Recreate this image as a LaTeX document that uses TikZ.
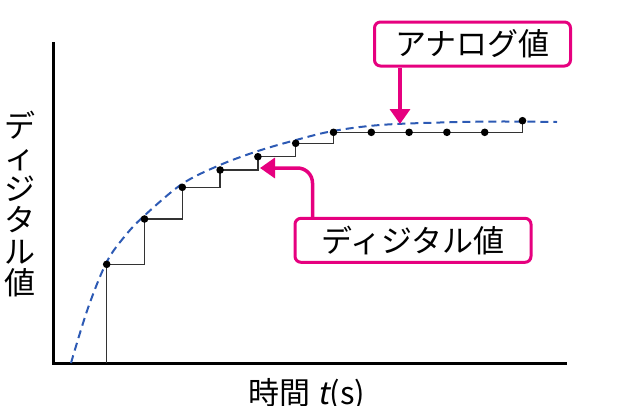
\documentclass[tikz,border=0pt]{standalone}
\usepackage{fontspec}
\setmainfont{Noto Sans CJK JP}[AutoFakeSlant=0.2]
\usetikzlibrary{arrows.meta,positioning}
\definecolor{hotpink}{RGB}{230,0,127}
\definecolor{curveblue}{RGB}{45,90,180}
\tikzset{
  axis/.style={line width=3pt},
  steps/.style={line width=1.5pt, black!80},
  analog/.style={curveblue, line width=2pt, dash pattern=on 8pt off 5pt},
  callout/.style={draw=hotpink, line width=3pt, rounded corners=6pt, fill=white, inner sep=0pt, minimum height=44pt},
  pointer/.style={hotpink, line width=3.5pt, -{Triangle[width=20pt,length=15pt]}},
}

\begin{document}
\begin{tikzpicture}[x=1pt,y=-1pt,font=\fontsize{31}{31}\selectfont]
    \useasboundingbox (0,0) rectangle (621,405);
    % axes
    \coordinate (ytop) at (53,42);
    \coordinate (O) at (53,363);
    \coordinate (xend) at (567,363);
    \draw[axis] (ytop) -- (O) -- (xend);
    \node[align=center, inner sep=0pt, font=\fontsize{31}{31.5}\selectfont] (ylab) at (20,204) {デ\\ィ\\ジ\\タ\\ル\\値};
    \node[anchor=north, inner sep=0pt] (xlab) at (307,378) {時間 \textit{t}(s)};
    % analog value
    \draw[analog] plot[smooth, tension=0.55] coordinates {(71,363) (88,308) (106.7,262) (125,236) (144,216) (182,184) (220,165) (258,151) (296,140) (333,131) (380,125) (440,122.5) (500,121.5) (557,122)};
    % digital value
    \foreach \y [count=\i] in {264.3,219,187.3,170,156.7,143.3,132.3,132.3,132.3,132.3,132.3,120.7}
        \coordinate (p\i) at ({106.7+37.8*(\i-1)},\y);
    \draw[steps] (p1 |- O) -- (p1) -| (p2) -| (p3) -| (p4) -| (p5) -| (p6) -| (p7) -| (p8) -| (p9) -| (p10) -| (p11) -| (p12);
    \foreach \i in {1,...,12}
        \fill (p\i) circle (3.8pt);
    % callouts
    \node[callout, minimum width=196pt] (ana) at (472.5,44) {アナログ値};
    \node[callout, minimum width=236pt] (dig) at (413,240.3) {ディジタル値};
    \coordinate (atip) at (400,124);
    \coordinate (dtip) at (260,168);
    \draw[pointer] (ana.south -| atip) -- (atip);
    \draw[pointer, rounded corners=15pt] ([xshift=19pt]dig.north west) |- (dtip);
\end{tikzpicture}
\end{document}
